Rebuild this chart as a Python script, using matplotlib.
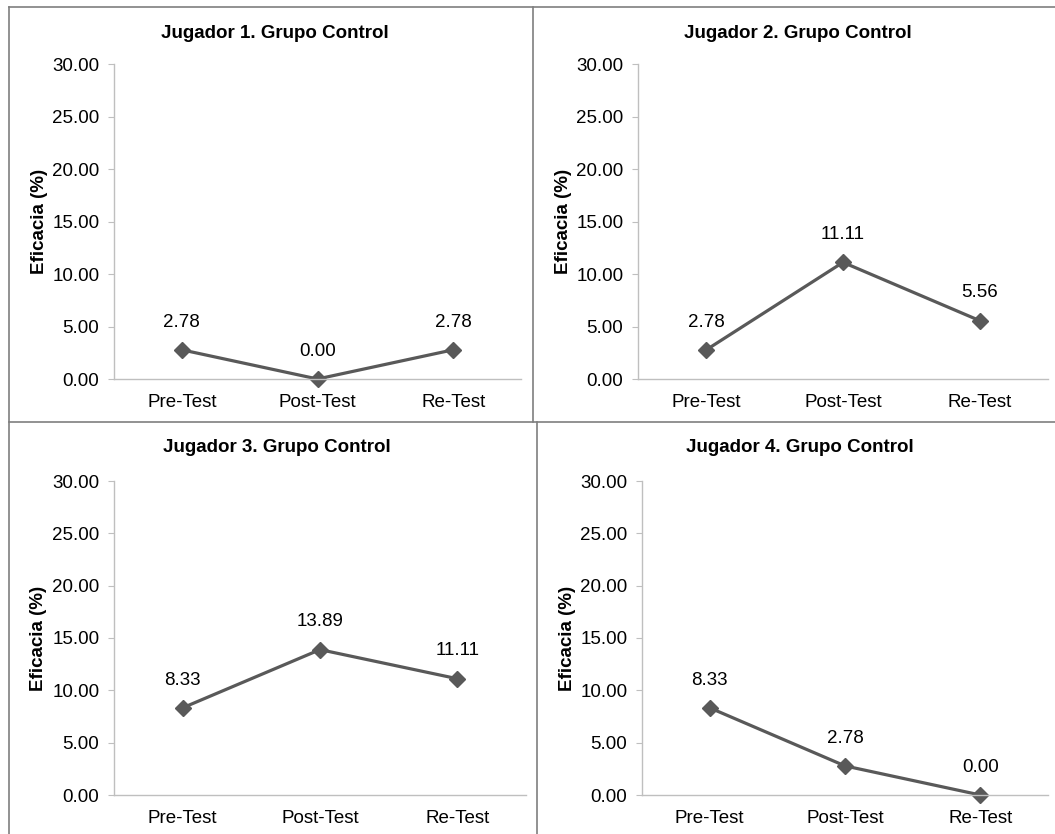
import matplotlib.pyplot as plt
from matplotlib.lines import Line2D

# categories and values per player
tests = ['Pre-Test', 'Post-Test', 'Re-Test']
jugador1 = [2.78, 0.00, 2.78]
jugador2 = [2.78, 11.11, 5.56]
jugador3 = [8.33, 13.89, 11.11]
jugador4 = [8.33, 2.78, 0.00]
titles = ['Jugador 1. Grupo Control', 'Jugador 2. Grupo Control',
          'Jugador 3. Grupo Control', 'Jugador 4. Grupo Control']
yticks = [0, 5, 10, 15, 20, 25, 30]

W, H = 1055, 834
plt.rcParams['font.family'] = ['Liberation Sans', 'DejaVu Sans']
fig = plt.figure(figsize=(W / 100, H / 100), dpi=100)

LINE = '#595959'
AXC = '#BFBFBF'
BORDER = '#7F7F7F'
FS = 13.5


def fx(px):
    return px / W


def fy(py):
    return 1 - py / H


# panel borders (pixel coords)
def hline(x0, x1, y):
    fig.add_artist(Line2D([fx(x0), fx(x1)], [fy(y), fy(y)], color=BORDER, lw=1.2))


def vline(x, y0, y1):
    fig.add_artist(Line2D([fx(x), fx(x)], [fy(y0), fy(y1)], color=BORDER, lw=1.2))


hline(9, 1055, 7)
hline(9, 1055, 422)
vline(9, 7, 834)
vline(533, 7, 422)
vline(537, 422, 834)

# panels: border left, border right, axes x0, x1, axes top, axes bottom, title y
panels = [
    (9, 533, 114, 521, 64, 379, 34),
    (533, 1055, 638, 1048, 64, 379, 34),
    (9, 537, 114, 526, 481, 795, 448),
    (537, 1055, 642, 1048, 481, 795, 448),
]
series = [jugador1, jugador2, jugador3, jugador4]

for (bl, br, x0, x1, yt, yb, ty), vals, title in zip(panels, series, titles):
    ax = fig.add_axes([fx(x0), fy(yb), fx(x1 - x0), (yb - yt) / H])
    x = range(len(tests))
    ax.plot(x, vals, color=LINE, lw=2.3, marker='D', markersize=8.5, clip_on=False)
    for xi, v in zip(x, vals):
        ax.annotate(f'{v:.2f}', (xi, v), xytext=(0, 20), textcoords='offset points',
                    ha='center', va='center', fontsize=FS, color='#000000')
    ax.set_xlim(-0.5, 2.5)
    ax.set_ylim(0, 30)
    ax.set_xticks(list(x))
    ax.set_xticklabels(tests)
    ax.set_yticks(yticks)
    ax.set_yticklabels([f'{t:.2f}' for t in yticks])
    for s in ['top', 'right']:
        ax.spines[s].set_visible(False)
    for s in ['left', 'bottom']:
        ax.spines[s].set_color(AXC)
        ax.spines[s].set_linewidth(1.0)
    ax.tick_params(axis='y', length=4.5, color=AXC, labelsize=FS, pad=6)
    ax.tick_params(axis='x', length=0, labelsize=FS, pad=11)
    ax.set_ylabel('Eficacia (%)', fontsize=FS, fontweight='bold')
    ax.yaxis.set_label_coords(-0.162, 0.5)
    fig.text(fx((bl + br) / 2 + 4), fy(ty), title, ha='center', va='center',
             fontsize=FS, fontweight='bold')

fig.savefig('out.png', dpi=100)
